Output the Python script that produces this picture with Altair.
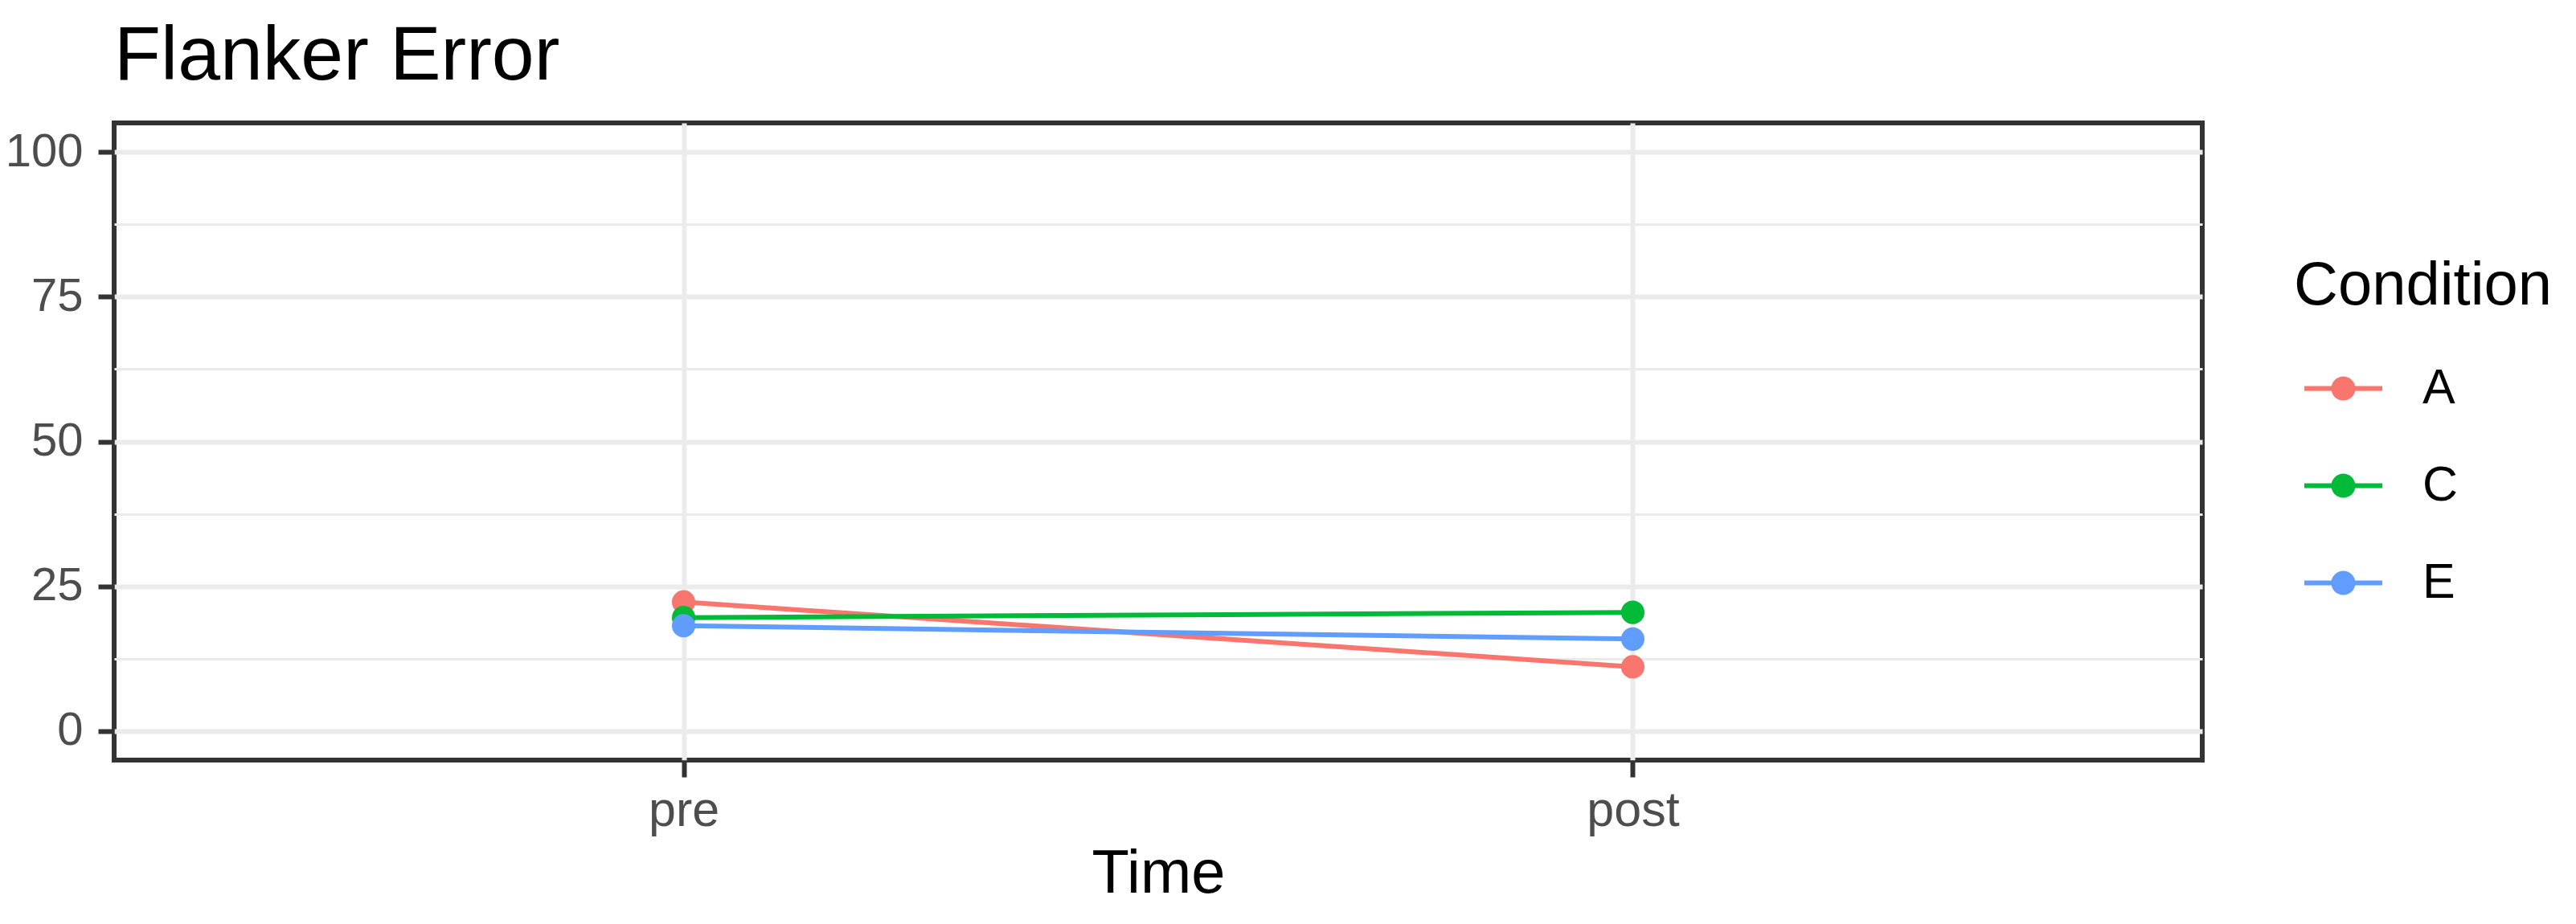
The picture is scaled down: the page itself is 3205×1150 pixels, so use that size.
import altair as alt
import pandas as pd

conditions = ["A", "A", "C", "C", "E", "E"]
times = ["pre", "post", "pre", "post", "pre", "post"]
errors = [22.3, 11.1, 19.6, 20.5, 18.2, 15.9]

time_order = ["pre", "post"]
cond_order = ["A", "C", "E"]
cond_colors = ["#F8766D", "#00BA38", "#619CFF"]
y_ticks = [0, 12.5, 25, 37.5, 50, 62.5, 75, 87.5, 100]

df = pd.DataFrame({"Condition": conditions, "Time": times, "Error": errors})

FONT = "Liberation Sans"
W, H = 2598, 793

legend_symbol = ("M-1,-0.06 L1,-0.06 L1,0.06 L-1,0.06 Z "
                 "M0.31,0 A0.31,0.31 0 1,1 -0.31,0 A0.31,0.31 0 1,1 0.31,0 Z")

x_enc = alt.X(
    "Time:N",
    sort=time_order,
    scale=alt.Scale(type="point", padding=0.6),
    axis=alt.Axis(
        title="Time", labelAngle=0, grid=True, gridColor="#EBEBEB", gridWidth=6,
        domain=False, tickColor="#333333", tickWidth=6, tickSize=21,
        labelPadding=12, labelFontSize=61, labelColor="#4D4D4D", labelFont=FONT,
        titleFontSize=76, titleFont=FONT, titleFontWeight="normal",
        titleColor="#000000", titlePadding=11,
    ),
)
y_enc = alt.Y(
    "Error:Q",
    scale=alt.Scale(domain=[-5, 105], nice=False, zero=False),
    axis=alt.Axis(
        title=None, values=y_ticks, grid=True, gridColor="#EBEBEB",
        gridWidth={"condition": {"test": "datum.value % 25 === 0", "value": 6}, "value": 3},
        tickOpacity={"condition": {"test": "datum.value % 25 === 0", "value": 1}, "value": 0},
        labelExpr="datum.value % 25 === 0 ? datum.label : ''",
        labelOverlap=False, domain=False, tickColor="#333333", tickWidth=6,
        tickSize=20, labelPadding=19, labelFontSize=58, labelColor="#4D4D4D",
        labelFont=FONT,
    ),
)
color_enc = alt.Color(
    "Condition:N",
    scale=alt.Scale(domain=cond_order, range=cond_colors),
    legend=alt.Legend(
        title="Condition", orient="none", legendX=2712, legendY=166,
        symbolType=legend_symbol, symbolSize=9409, symbolStrokeWidth=0,
        symbolOffset=13, labelOffset=50, rowPadding=42, padding=0,
        titleFontSize=76, titleFont=FONT, titleFontWeight="normal",
        titleColor="#000000", titlePadding=40, titleLimit=2000, labelLimit=2000,
        labelFontSize=61, labelFont=FONT, labelColor="#000000",
    ),
)

base = alt.Chart(df).encode(x=x_enc, y=y_enc, color=color_enc)
lines = base.mark_line(strokeWidth=6)
points = base.mark_point(filled=True, size=850, opacity=1)

chart = (
    alt.layer(lines, points)
    .properties(
        width=W, height=H,
        title=alt.Title("Flanker Error", anchor="start", frame="group",
                        fontSize=95, font=FONT, fontWeight="normal",
                        color="#000000", baseline="alphabetic", offset=53, dy=94),
        autosize=alt.AutoSizeParams(type="none"),
        padding={"left": 134, "top": 145, "right": 455, "bottom": 190},
        background="#FFFFFF",
    )
    .configure_view(stroke="#333333", strokeWidth=6, fill="#FFFFFF")
)

chart.save("out.html", embed_options={"renderer": "svg", "actions": False})
